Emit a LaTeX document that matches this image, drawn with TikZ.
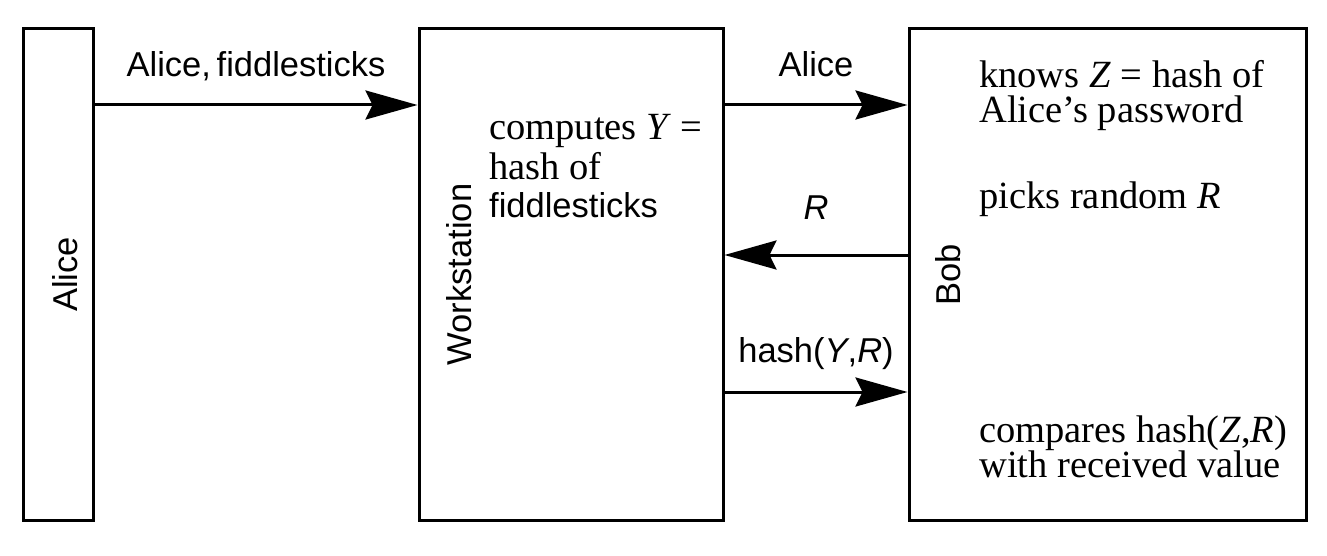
\documentclass[tikz,border=0pt]{standalone}
\usepackage{fontspec}
\setmainfont{Liberation Serif}
\setsansfont{Liberation Sans}
\usetikzlibrary{arrows.meta}
\begin{document}
\begin{tikzpicture}[x=1pt,y=-1pt,
  box/.style={draw, line width=3pt, rectangle, inner sep=0pt},
  arr/.style={line width=3pt, -{Stealth[length=52pt,width=29pt,inset=7pt]}},
  sanslbl/.style={inner sep=0pt, font=\fontsize{34.5}{40}\sffamily\selectfont},
  seriftxt/.style={inner sep=0pt, anchor=base west, font=\fontsize{38.5}{40}\rmfamily\selectfont},
  sanstxt/.style={inner sep=0pt, anchor=base west, font=\fontsize{34.5}{40}\sffamily\selectfont},
  vlbl/.style={sanslbl, rotate=90, anchor=base}]
\useasboundingbox[fill=white] (0,0) rectangle (1327,556);
% boxes
\node[box, minimum width=70pt, minimum height=491pt] (alice) at (58,274.5) {};
\node[box, minimum width=304pt, minimum height=491pt] (ws) at (571,274.5) {};
\node[box, minimum width=397pt, minimum height=491pt] (bob) at (1107.5,274.5) {};
% rotated labels
\node[vlbl] (alicelbl) at (77,274.5) {Alice};
\node[vlbl] (wslbl) at (471,274.5) {Workstation};
\node[vlbl] (boblbl) at (960,274.5) {Bob};
% arrow levels
\coordinate (y1) at (0,105);
\coordinate (y2) at (0,255);
\coordinate (y3) at (0,392);
\draw[arr] (alice.east |- y1) -- (ws.west |- y1);
\draw[arr] (ws.east |- y1) -- (bob.west |- y1);
\draw[arr] (bob.west |- y2) -- (ws.east |- y2);
\draw[arr] (ws.east |- y3) -- (bob.west |- y3);
% arrow labels
\node[sanslbl, anchor=base] (l1) at (256,77) {Alice,\,fiddlesticks};
\node[sanslbl, anchor=base] (l2) at (816,77) {Alice};
\node[sanslbl, anchor=base] (l3) at (816,219) {\textit{R}};
\node[sanslbl, anchor=base] (l4) at (816,362) {hash(\textit{Y},\textit{R})};
% workstation text
\node[seriftxt] (w1) at (489,140) {computes \textit{Y} =};
\node[seriftxt] (w2) at (489,180) {hash of};
\node[sanstxt] (w3) at (489,217) {fiddlesticks};
% bob text
\node[seriftxt] (b1) at (979,88) {knows \textit{Z} = hash of};
\node[seriftxt] (b2) at (979,123) {Alice’s password};
\node[seriftxt] (b3) at (979,208) {picks random \textit{R}};
\node[seriftxt] (b4) at (979,442) {compares hash(\textit{Z},\textit{R})};
\node[seriftxt] (b5) at (979,477) {with received value};
\end{tikzpicture}
\end{document}
